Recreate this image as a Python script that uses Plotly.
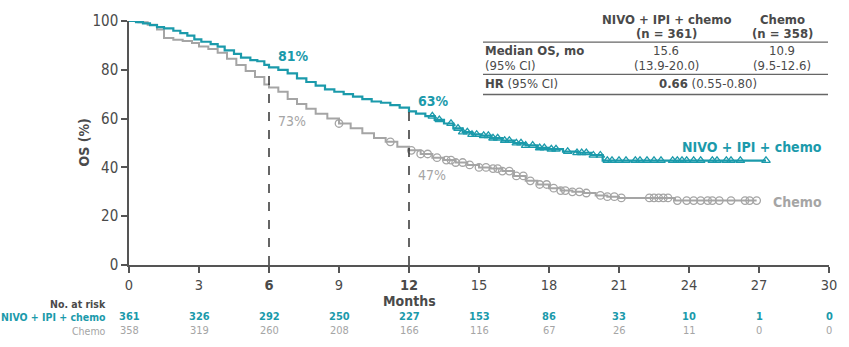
import plotly.graph_objects as go
import numpy as np

# ---------------- data ----------------
nivo_t = [0, 0.3, 0.6, 0.9, 1.2, 1.5, 1.9, 2.2, 2.5, 2.8, 3.1, 3.5, 3.8, 4.1, 4.5, 4.8, 5.2, 5.5, 5.8, 6.0,
          6.4, 6.8, 7.2, 7.6, 8.0, 8.4, 8.8, 9.2, 9.6, 10.0, 10.4, 10.8, 11.2, 11.6, 12.0, 12.3, 12.7, 13.1,
          13.5, 13.9, 14.3, 14.7, 15.1, 15.5, 16.0, 16.5, 17.0, 17.5, 18.0, 18.6, 19.2, 19.8, 20.3, 27.3]
nivo_s = [100, 99.5, 99, 98.3, 97.5, 97, 96, 95, 94, 92.5, 91.5, 90.5, 89.5, 88, 86.5, 85, 84, 83.5, 82, 81,
          80, 78.5, 76.5, 75, 73.5, 72, 71, 70, 69, 68, 67, 66.5, 65.5, 64.5, 63, 62, 61, 59.5,
          58, 56, 54.5, 53.5, 53, 52, 51, 50, 49, 48, 47.5, 46.5, 46, 45, 42.8, 42.8]
chemo_t = [0, 0.4, 0.8, 1.2, 1.5, 1.9, 2.3, 2.7, 3.0, 3.4, 3.8, 4.2, 4.6, 5.0, 5.4, 5.8, 6.0, 6.4, 6.8, 7.2,
           7.6, 8.0, 8.5, 9.0, 9.5, 10.0, 10.5, 11.0, 11.5, 12.0, 12.5, 13.0, 13.5, 14.0, 14.5, 15.0, 15.5,
           16.0, 16.5, 17.0, 17.5, 18.0, 18.5, 19.0, 19.5, 20.0, 20.5, 21.0, 23.4, 26.9]
chemo_s = [100, 99.5, 98.5, 96.5, 93, 92.3, 91.8, 91, 89.5, 88.5, 87, 84.5, 82, 79.5, 77, 74, 72.7, 71, 68, 66,
           64, 62, 60, 58, 56, 54, 52, 50.5, 48.5, 47, 45.5, 44, 43, 42, 41, 40, 39.5,
           38.5, 36.5, 34.5, 33, 31.5, 30.5, 30, 29.5, 28.5, 28, 27.5, 26.4, 26.4]

nivo_cens = [13.0, 13.3, 13.8, 14.1, 14.3, 14.5, 14.7, 14.9, 15.2, 15.4, 15.6, 15.8, 16.1, 16.3, 16.6, 16.8,
             17.0, 17.3, 17.6, 17.8, 18.1, 18.3, 18.8, 19.2, 19.4, 19.6, 19.9, 20.2, 20.5, 20.7, 21.0, 21.3,
             21.7, 21.9, 22.2, 22.5, 22.8, 23.3, 23.5, 23.7, 23.9, 24.2, 24.5, 25.0, 25.2, 25.6, 25.8, 26.2, 27.3]
chemo_cens = [9.0, 11.2, 12.1, 12.5, 12.8, 13.2, 13.6, 13.8, 14.0, 14.3, 14.6, 15.0, 15.3, 15.6, 15.8, 16.0,
              16.3, 16.6, 16.9, 17.2, 17.6, 17.9, 18.2, 18.5, 18.7, 19.0, 19.3, 19.6, 20.2, 20.5, 20.8, 21.1,
              22.3, 22.5, 22.7, 22.9, 23.1, 23.5, 23.9, 24.2, 24.5, 24.8, 25.0, 25.3, 25.8, 26.4, 26.6, 26.9]

x_ticks = list(range(0, 31, 3))
risk_nivo = [361, 326, 292, 250, 227, 153, 86, 33, 10, 1, 0]
risk_chemo = [358, 319, 260, 208, 166, 116, 67, 26, 11, 0, 0]
landmarks = [6, 12]
nivo_landmark = [81, 63]
chemo_landmark = [73, 47]

TEAL = "#1b9aab"
GRAY = "#a5a5a5"
DARK = "#4a4a4a"
FONT = "DejaVu Sans Condensed, DejaVu Sans"

W, H = 849, 347
L, R, T, B = 129, 20, 16, 82
PW, PH = W - L - R, H - T - B


def px(xp):
    return (xp - L) / PW


def py(yp):
    return (H - B - yp) / PH


def step_lookup(ts, ss, t):
    idx = np.searchsorted(np.array(ts), t, side="right") - 1
    return ss[max(idx, 0)]


def note(xp, yp, text, size, color, xanchor="center", **kw):
    fig.add_annotation(x=px(xp), y=py(yp), xref="paper", yref="paper", text=text, showarrow=False,
                       xanchor=xanchor, yanchor="middle", font=dict(family=FONT, size=size, color=color), **kw)


fig = go.Figure()
fig.add_trace(go.Scatter(x=chemo_t, y=chemo_s, mode="lines", line=dict(color=GRAY, width=2, shape="hv"),
                         hoverinfo="skip", showlegend=False))
fig.add_trace(go.Scatter(x=chemo_cens, y=[step_lookup(chemo_t, chemo_s, t) for t in chemo_cens], mode="markers",
                         marker=dict(symbol="circle-open", size=7.5, color=GRAY, line=dict(width=1.3)),
                         showlegend=False))
fig.add_trace(go.Scatter(x=nivo_t, y=nivo_s, mode="lines", line=dict(color=TEAL, width=2.2, shape="hv"),
                         hoverinfo="skip", showlegend=False))
fig.add_trace(go.Scatter(x=nivo_cens, y=[step_lookup(nivo_t, nivo_s, t) for t in nivo_cens], mode="markers",
                         marker=dict(symbol="triangle-up-open", size=7.5, color=TEAL, line=dict(width=1.3)),
                         showlegend=False))

# dashed landmark lines
for lx, ly in zip(landmarks, nivo_landmark):
    fig.add_shape(type="line", x0=lx, x1=lx, y0=0, y1=ly, xref="x", yref="y",
                  line=dict(color="#333333", width=1.5, dash="dash"))

# landmark labels
for lx, nv, cv, ny, cy in zip(landmarks, nivo_landmark, chemo_landmark, [52, 98], [118, 173]):
    note(L + lx * PW / 30 + 7, ny, f"<b>{nv}%</b>", 14, TEAL, xanchor="left")
    note(L + lx * PW / 30 + 7, cy, f"{cv}%", 14, GRAY, xanchor="left")

# curve labels
note(824, 145, "<b>NIVO + IPI + chemo</b>", 14, TEAL, xanchor="right")
note(824, 201, "<b>Chemo</b>", 14, GRAY, xanchor="right")

# axis titles
note(84, 140, "<b>OS (%)</b>", 14, DARK, textangle=-90)
note(409, 302, "<b>Months</b>", 14, DARK)

# number at risk
note(108, 305, "<b>No. at risk</b>", 10.5, DARK, xanchor="right")
note(108, 318, "<b>NIVO + IPI + chemo</b>", 10.5, TEAL, xanchor="right")
note(108, 332, "Chemo", 10.5, GRAY, xanchor="right")
for xt, a, b in zip(x_ticks, risk_nivo, risk_chemo):
    fig.add_annotation(x=xt, y=py(318), xref="x", yref="paper", text=f"<b>{a}</b>", showarrow=False,
                       xanchor="center", yanchor="middle", font=dict(family=FONT, size=11, color=TEAL))
    fig.add_annotation(x=xt, y=py(332), xref="x", yref="paper", text=f"{b}", showarrow=False,
                       xanchor="center", yanchor="middle", font=dict(family=FONT, size=11, color=GRAY))

# summary table
c1, c2 = 666, 782
TS = 13
note(c1, 14, "<b>NIVO + IPI + chemo</b>", TS, DARK)
note(c1, 28.5, "<b>(n = 361)</b>", TS, DARK)
note(c2, 14, "<b>Chemo</b>", TS, DARK)
note(c2, 28.5, "<b>(n = 358)</b>", TS, DARK)
note(483, 46, "<b>Median OS, mo</b>", TS, DARK, xanchor="left")
note(483, 61.5, "(95% CI)", TS, DARK, xanchor="left")
note(c1, 46, "15.6", TS, DARK)
note(c1, 61.5, "(13.9-20.0)", TS, DARK)
note(c2, 46, "10.9", TS, DARK)
note(c2, 61.5, "(9.5-12.6)", TS, DARK)
note(483, 80, "<b>HR</b> (95% CI)", TS, DARK, xanchor="left")
note(657, 80, "<b>0.66</b> (0.55-0.80)", TS, DARK, xanchor="left")
for ly in [37.5, 70.5, 91]:
    fig.add_shape(type="line", xref="paper", yref="paper", x0=px(483), x1=px(828), y0=py(ly), y1=py(ly),
                  line=dict(color="#666666", width=1.3))

ticktext = [f"<b>{v}</b>" if v in landmarks else str(v) for v in x_ticks]
fig.update_xaxes(range=[0, 30], tickvals=x_ticks, ticktext=ticktext, showgrid=False, zeroline=False,
                 showline=True, linecolor="#555555", linewidth=1.5, ticks="outside", ticklen=6,
                 tickcolor="#555555", tickwidth=1.5, tickfont=dict(family=FONT, size=14.5, color=DARK))
fig.update_yaxes(range=[0, 100], tickvals=list(range(0, 101, 20)), showgrid=False, zeroline=False,
                 showline=True, linecolor="#555555", linewidth=1.5, ticks="outside", ticklen=6,
                 tickcolor="#555555", tickwidth=1.5, tickfont=dict(family=FONT, size=15, color=DARK))
fig.update_layout(width=W, height=H, margin=dict(l=L, r=R, t=T, b=B), plot_bgcolor="white",
                  paper_bgcolor="white", showlegend=False)
fig.update_traces(cliponaxis=False)

fig.write_html("out.html")
